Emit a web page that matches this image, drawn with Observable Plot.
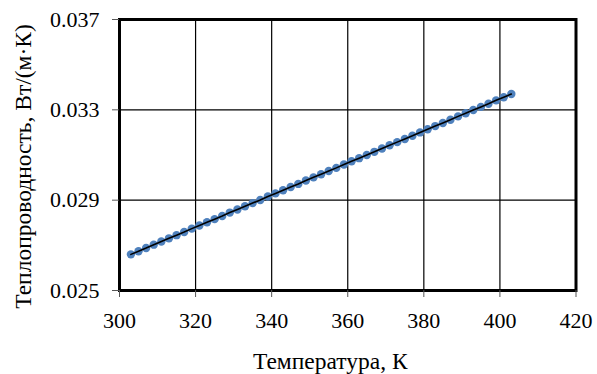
<!DOCTYPE html>
<html>
<head>
<meta charset="utf-8">
<script src="https://cdn.jsdelivr.net/npm/d3@7"></script>
<script src="https://cdn.jsdelivr.net/npm/@observablehq/plot@0.6"></script>
<style>
  html, body { margin: 0; padding: 0; background: #fff; }
  #chart { width: 597px; height: 374px; }
</style>
</head>
<body>
<div id="chart"></div>
<script>
// Temperature, K
const temperature = [303, 305, 307, 309, 311, 313, 315, 317, 319, 321, 323, 325, 327, 329, 331, 333, 335, 337, 339, 341, 343, 345, 347, 349, 351, 353, 355, 357, 359, 361, 363, 365, 367, 369, 371, 373, 375, 377, 379, 381, 383, 385, 387, 389, 391, 393, 395, 397, 399, 401, 403];
// Thermal conductivity, W/(m·K)
const conductivity = [0.02660, 0.02674, 0.02688, 0.02703, 0.02717, 0.02731, 0.02745, 0.02759, 0.02774, 0.02788, 0.02802, 0.02816, 0.02830, 0.02845, 0.02859, 0.02873, 0.02887, 0.02901, 0.02916, 0.02930, 0.02944, 0.02958, 0.02972, 0.02987, 0.03001, 0.03015, 0.03029, 0.03043, 0.03058, 0.03072, 0.03086, 0.03100, 0.03114, 0.03129, 0.03143, 0.03157, 0.03171, 0.03185, 0.03200, 0.03214, 0.03228, 0.03242, 0.03256, 0.03271, 0.03285, 0.03299, 0.03313, 0.03327, 0.03342, 0.03356, 0.03370];
const xTicks = [300, 320, 340, 360, 380, 400, 420];
const yTicks = [0.025, 0.029, 0.033, 0.037];
const xLabel = "Температура, К";
const yLabel = "Теплопроводность, Вт/(м·К)";

const data = temperature.map((t, i) => ({t, k: conductivity[i]}));
const font = "Liberation Serif";

const chart = Plot.plot({
  width: 597,
  height: 374,
  marginLeft: 119,
  marginRight: 21.5,
  marginTop: 19,
  marginBottom: 84,
  style: {fontFamily: font, fontSize: "22px", color: "#000", background: "#fff"},
  x: {domain: [300, 420]},
  y: {domain: [0.025, 0.037]},
  marks: [
    Plot.gridX(xTicks.slice(1, -1), {stroke: "#000", strokeOpacity: 1, strokeWidth: 1.2}),
    Plot.gridY(yTicks.slice(1, -1), {stroke: "#000", strokeOpacity: 1, strokeWidth: 1.2}),
    Plot.dot(data, {x: "t", y: "k", r: 4.2, fill: "#4f81bd", stroke: "none"}),
    Plot.line(data, {x: "t", y: "k", stroke: "#000", strokeWidth: 1.6}),
    Plot.frame({stroke: "#000", strokeWidth: 3}),
    Plot.axisX(xTicks, {tickSize: 7, tickPadding: 15, fontSize: 22, fontFamily: font, label: null, stroke: "#555"}),
    Plot.axisY(yTicks, {tickSize: 7, tickPadding: 13, fontSize: 22, fontFamily: font, label: null, stroke: "#555", tickFormat: d => d.toFixed(3)}),
    Plot.text([xLabel], {frameAnchor: "bottom", textAnchor: "middle", lineAnchor: "middle", dx: -17.5, dy: 70.5, fontSize: 23.5, fontFamily: font, fill: "#000"}),
    Plot.text([yLabel], {frameAnchor: "left", textAnchor: "middle", lineAnchor: "middle", rotate: -90, dx: -96.5, dy: 11.5, fontSize: 23.5, fontFamily: font, fill: "#000"})
  ]
});
document.getElementById("chart").appendChild(chart);
</script>
</body>
</html>
